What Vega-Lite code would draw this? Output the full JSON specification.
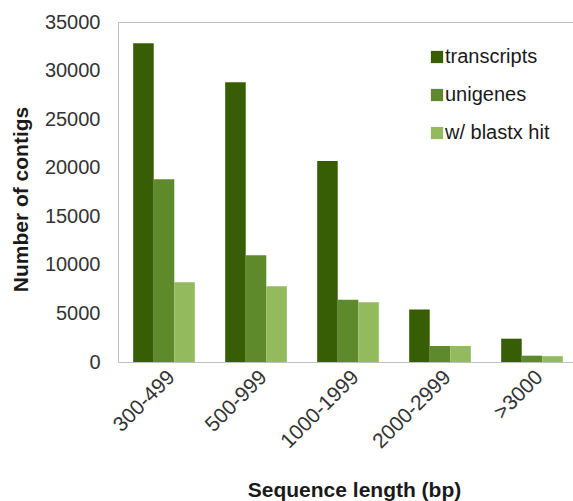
{
  "$schema": "https://vega.github.io/schema/vega-lite/v6.json",
  "width": 460,
  "height": 340,
  "autosize": {"type": "none"},
  "padding": {"left": 118, "top": 22, "right": 0, "bottom": 139},
  "background": "white",
  "data": {
    "values": [
      {"range": "300-499", "series": "transcripts", "count": 32800},
      {"range": "300-499", "series": "unigenes", "count": 18800},
      {"range": "300-499", "series": "w/ blastx hit", "count": 8200},
      {"range": "500-999", "series": "transcripts", "count": 28800},
      {"range": "500-999", "series": "unigenes", "count": 11000},
      {"range": "500-999", "series": "w/ blastx hit", "count": 7800},
      {"range": "1000-1999", "series": "transcripts", "count": 20700},
      {"range": "1000-1999", "series": "unigenes", "count": 6400},
      {"range": "1000-1999", "series": "w/ blastx hit", "count": 6150},
      {"range": "2000-2999", "series": "transcripts", "count": 5400},
      {"range": "2000-2999", "series": "unigenes", "count": 1650},
      {"range": "2000-2999", "series": "w/ blastx hit", "count": 1650},
      {"range": ">3000", "series": "transcripts", "count": 2400},
      {"range": ">3000", "series": "unigenes", "count": 650},
      {"range": ">3000", "series": "w/ blastx hit", "count": 600}
    ]
  },
  "mark": {"type": "bar"},
  "encoding": {
    "x": {
      "field": "range",
      "type": "nominal",
      "sort": ["300-499", "500-999", "1000-1999", "2000-2999", ">3000"],
      "scale": {"paddingInner": 0.33, "paddingOuter": 0.165},
      "axis": {
        "title": "Sequence length (bp)",
        "labelAngle": -45,
        "labelFontSize": 21,
        "labelColor": "#333333",
        "labelPadding": 4,
        "ticks": false,
        "domain": false,
        "titleFontSize": 21,
        "titleFontWeight": "bold",
        "titleColor": "#1a1a1a",
        "titleX": 236,
        "titleY": 134,
        "titleBaseline": "alphabetic",
        "titleAlign": "center"
      }
    },
    "xOffset": {
      "field": "series",
      "type": "nominal",
      "sort": ["transcripts", "unigenes", "w/ blastx hit"]
    },
    "y": {
      "field": "count",
      "type": "quantitative",
      "scale": {"domain": [0, 35000], "nice": false},
      "axis": {
        "title": "Number of contigs",
        "values": [0, 5000, 10000, 15000, 20000, 25000, 30000, 35000],
        "format": "d",
        "grid": false,
        "domain": false,
        "ticks": false,
        "labelFontSize": 20,
        "labelColor": "#333333",
        "labelPadding": 18,
        "titleFontSize": 21,
        "titleFontWeight": "bold",
        "titleColor": "#1a1a1a",
        "titleAngle": -90,
        "titleX": -91,
        "titleY": 177,
        "titleBaseline": "alphabetic",
        "titleAlign": "center"
      }
    },
    "color": {
      "field": "series",
      "type": "nominal",
      "sort": ["transcripts", "unigenes", "w/ blastx hit"],
      "scale": {
        "domain": ["transcripts", "unigenes", "w/ blastx hit"],
        "range": ["#375E05", "#5E8A2B", "#93BA5C"]
      },
      "legend": {
        "orient": "none",
        "legendX": 309,
        "legendY": 25,
        "title": null,
        "labelFontSize": 20,
        "labelColor": "#1a1a1a",
        "symbolType": "square",
        "symbolSize": 150,
        "symbolStrokeWidth": 0,
        "rowPadding": 18,
        "labelOffset": -2
      }
    }
  },
  "config": {
    "font": "Liberation Sans",
    "view": {"stroke": "#BFBFBF", "strokeWidth": 1}
  }
}
